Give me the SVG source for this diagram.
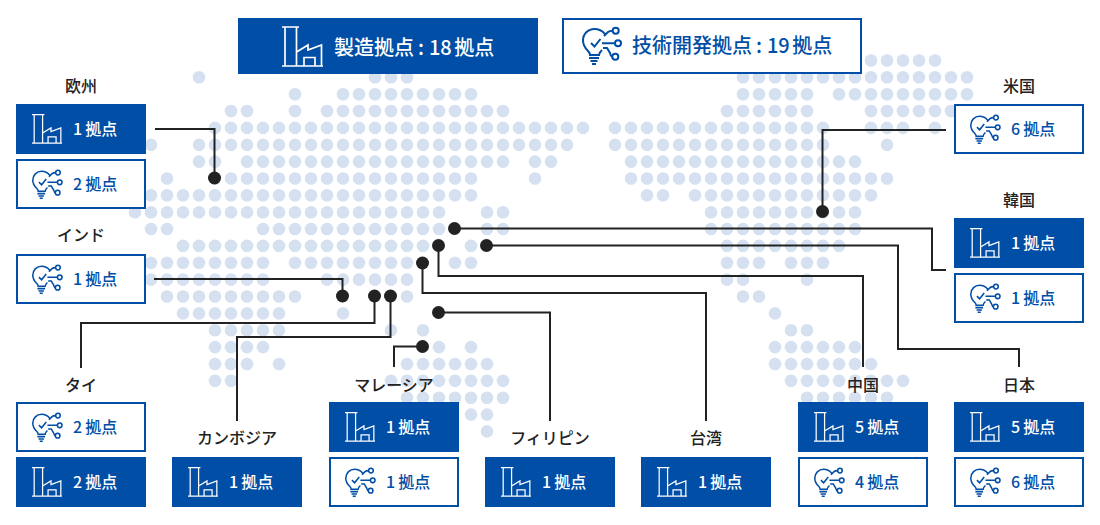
<svg xmlns="http://www.w3.org/2000/svg" width="1100" height="525" viewBox="0 0 1100 525">
<style>
text{font-family:"Noto Sans CJK JP","Noto Sans",sans-serif;font-weight:500}
#map path{fill:none;stroke:#d5e0f0;stroke-width:12.6;stroke-linecap:round;stroke-dasharray:0 16}
#connectors path{fill:none;stroke:#222;stroke-width:2}
#connectors circle{fill:#222}
.lab{font-size:16px;fill:#222;text-anchor:middle}
.m{fill:#004ea6}
.t{fill:#fff;stroke:#004ea6;stroke-width:2}
.n{font-size:16px}
.nm{fill:#fff}
.nt{fill:#004ea6}
.big{font-size:20px}
.fi{fill:none;stroke:#fff;stroke-width:1.7}
.bi{fill:none;stroke:#004ea6;stroke-width:2}
</style>
<defs>
<g id="fac"><path d="M0 40H41M3 40V1M14.500 40V1M0 1H17M14.500 26L26 19V24L39.500 19V40M22 40V31.500H33V40"/></g>
<g id="bulb"><path d="M23 8C20 4.500 16 3 12.500 3C6 3 1 8 1 14.500C1 19 3 22 6 25C7.500 26.500 8 27.500 8 29H17C17 27 18 26 20 24M9 17L12.500 20.500L18.500 13M22 10L26 6Q27.500 4.700 30.700 4.700M20 17.300H33M21 22H25L28 27Q29 30.700 30.300 30.700M7 32H17M8.500 35H15.500M10 38H14"/><circle cx="33.700" cy="4.700" r="3"/><circle cx="36" cy="17.300" r="3"/><circle cx="33.300" cy="30.700" r="3"/></g>
</defs>
<g id="map">
<path d="M871 60.500H936"/>
<path d="M199 77.300h1M375 77.300H408M743 77.300H968"/>
<path d="M295 94.200h1M343 94.200H472M743 94.200H808M839 94.200H968"/>
<path d="M231 111H248M295 111h1M327 111H504M727 111H808M871 111H952"/>
<path d="M215 127.900H584M615 127.900H824M871 127.900H904M935 127.900h1"/>
<path d="M151 144.800h1M199 144.800H568M615 144.800H824M887 144.800h1"/>
<path d="M199 161.600H216M247 161.600H504M535 161.600H552M631 161.600H856"/>
<path d="M167 178.500h1M215 178.500H472M535 178.500h1M631 178.500H888"/>
<path d="M151 195.300H472M647 195.300H664M695 195.300H872"/>
<path d="M135 212.200H440M487 212.200H504M711 212.200H856"/>
<path d="M151 229H168M263 229H440M487 229H504M711 229H856"/>
<path d="M183 245.900H424M471 245.900h1M727 245.900H840"/>
<path d="M151 262.800H264M295 262.800H408M455 262.800H472M727 262.800H760M791 262.800H824"/>
<path d="M151 279.600H264M327 279.600H408M727 279.600H744M807 279.600h1"/>
<path d="M167 296.500H296M407 296.500h1M743 296.500H760"/>
<path d="M183 313.400H280M343 313.400h1M775 313.400h1"/>
<path d="M215 330.200H280M391 330.200h1M423 330.200h1M791 330.200H808"/>
<path d="M215 347.100H264M439 347.100h1M471 347.100h1M775 347.100H856"/>
<path d="M215 364H248M279 364h1M407 364H488M775 364H872"/>
<path d="M215 380.800H232M391 380.800H504M791 380.800H904"/>
<path d="M407 397.700H504M807 397.700H888"/>
<path d="M471 414.600H488"/>
<path d="M487 431.400h1"/>
</g>
<g id="connectors">
<path d="M155 129H214.500V178"/><circle cx="214.500" cy="178" r="6.500"/>
<path d="M154 279H342.500V296"/><circle cx="342.500" cy="296" r="6.500"/>
<path d="M374.500 296V323H81V368"/><circle cx="374.500" cy="296" r="6.500"/>
<path d="M390.500 296V337H237V421"/><circle cx="390.500" cy="296" r="6.500"/>
<path d="M422.500 346.500H394V367"/><circle cx="422.500" cy="346.500" r="6.500"/>
<path d="M438.500 312.500H550V421"/><circle cx="438.500" cy="312.500" r="6.500"/>
<path d="M422.500 263V293H706V421"/><circle cx="422.500" cy="263" r="6.500"/>
<path d="M438.500 245.500V276H863V367"/><circle cx="438.500" cy="245.500" r="6.500"/>
<path d="M486.500 245.500H898V349H1019V367"/><circle cx="486.500" cy="245.500" r="6.500"/>
<path d="M454.500 228.500H932V270H946"/><circle cx="454.500" cy="228.500" r="6.500"/>
<path d="M822.500 211.500V130H946"/><circle cx="822.500" cy="211.500" r="6.500"/>
</g>
<g id="total-mfg"><rect class="m" x="238" y="18" width="300" height="56"/><use href="#fac" class="fi" x="282" y="26"/><text class="big nm" x="334" y="55">製造拠点<tspan dx="4">:</tspan><tspan dx="5">18</tspan><tspan dx="2.500">拠点</tspan></text></g>
<g id="total-tech"><rect class="t" x="563" y="19" width="298" height="54"/><use href="#bulb" class="bi" x="582" y="26"/><text class="big nt" x="632" y="53">技術開発拠点<tspan dx="4">:</tspan><tspan dx="5">19</tspan><tspan dx="2.500">拠点</tspan></text></g>
<g id="europe"><text class="lab" x="81" y="92">欧州</text>
<rect class="m" x="16" y="104" width="130" height="50"/><use href="#fac" class="fi" transform="translate(32 114) scale(.73)"/><text class="n nm" x="73" y="135">1<tspan dx="3">拠点</tspan></text>
<rect class="t" x="17" y="160" width="128" height="48"/><use href="#bulb" class="bi" transform="translate(32 169) scale(.77)"/><text class="n nt" x="73" y="190">2<tspan dx="3">拠点</tspan></text></g>
<g id="india"><text class="lab" x="81" y="241">インド</text>
<rect class="t" x="17" y="255" width="128" height="48"/><use href="#bulb" class="bi" transform="translate(32 264) scale(.77)"/><text class="n nt" x="73" y="285">1<tspan dx="3">拠点</tspan></text></g>
<g id="thailand"><text class="lab" x="81" y="391">タイ</text>
<rect class="t" x="17" y="403" width="128" height="48"/><use href="#bulb" class="bi" transform="translate(32 412) scale(.77)"/><text class="n nt" x="73" y="433">2<tspan dx="3">拠点</tspan></text>
<rect class="m" x="16" y="457" width="130" height="50"/><use href="#fac" class="fi" transform="translate(32 467) scale(.73)"/><text class="n nm" x="73" y="488">2<tspan dx="3">拠点</tspan></text></g>
<g id="cambodia"><text class="lab" x="237" y="444">カンボジア</text>
<rect class="m" x="172" y="457" width="130" height="50"/><use href="#fac" class="fi" transform="translate(188 467) scale(.73)"/><text class="n nm" x="229" y="488">1<tspan dx="3">拠点</tspan></text></g>
<g id="malaysia"><text class="lab" x="394" y="391">マレーシア</text>
<rect class="m" x="329" y="402" width="130" height="50"/><use href="#fac" class="fi" transform="translate(345 412) scale(.73)"/><text class="n nm" x="386" y="433">1<tspan dx="3">拠点</tspan></text>
<rect class="t" x="330" y="458" width="128" height="48"/><use href="#bulb" class="bi" transform="translate(345 467) scale(.77)"/><text class="n nt" x="386" y="488">1<tspan dx="3">拠点</tspan></text></g>
<g id="philippines"><text class="lab" x="550" y="444">フィリピン</text>
<rect class="m" x="485" y="457" width="130" height="50"/><use href="#fac" class="fi" transform="translate(501 467) scale(.73)"/><text class="n nm" x="542" y="488">1<tspan dx="3">拠点</tspan></text></g>
<g id="taiwan"><text class="lab" x="706" y="444">台湾</text>
<rect class="m" x="641" y="457" width="130" height="50"/><use href="#fac" class="fi" transform="translate(657 467) scale(.73)"/><text class="n nm" x="698" y="488">1<tspan dx="3">拠点</tspan></text></g>
<g id="china"><text class="lab" x="863" y="391">中国</text>
<rect class="m" x="798" y="402" width="130" height="50"/><use href="#fac" class="fi" transform="translate(814 412) scale(.73)"/><text class="n nm" x="855" y="433">5<tspan dx="3">拠点</tspan></text>
<rect class="t" x="799" y="458" width="128" height="48"/><use href="#bulb" class="bi" transform="translate(814 467) scale(.77)"/><text class="n nt" x="855" y="488">4<tspan dx="3">拠点</tspan></text></g>
<g id="japan"><text class="lab" x="1019" y="391">日本</text>
<rect class="m" x="954" y="402" width="130" height="50"/><use href="#fac" class="fi" transform="translate(970 412) scale(.73)"/><text class="n nm" x="1011" y="433">5<tspan dx="3">拠点</tspan></text>
<rect class="t" x="955" y="458" width="128" height="48"/><use href="#bulb" class="bi" transform="translate(970 467) scale(.77)"/><text class="n nt" x="1011" y="488">6<tspan dx="3">拠点</tspan></text></g>
<g id="usa"><text class="lab" x="1019" y="92">米国</text>
<rect class="t" x="955" y="105" width="128" height="48"/><use href="#bulb" class="bi" transform="translate(970 114) scale(.77)"/><text class="n nt" x="1011" y="135">6<tspan dx="3">拠点</tspan></text></g>
<g id="korea"><text class="lab" x="1019" y="206">韓国</text>
<rect class="m" x="954" y="218" width="130" height="50"/><use href="#fac" class="fi" transform="translate(970 228) scale(.73)"/><text class="n nm" x="1011" y="249">1<tspan dx="3">拠点</tspan></text>
<rect class="t" x="955" y="274" width="128" height="48"/><use href="#bulb" class="bi" transform="translate(970 283) scale(.77)"/><text class="n nt" x="1011" y="304">1<tspan dx="3">拠点</tspan></text></g>
</svg>
